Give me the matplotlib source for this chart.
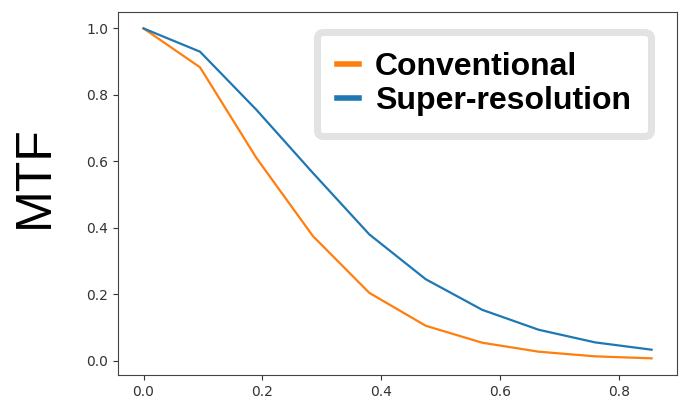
import matplotlib
matplotlib.use("Agg")
import matplotlib.pyplot as plt

freq = [0.0, 0.095, 0.19, 0.285, 0.38, 0.475, 0.57, 0.665, 0.76, 0.855]
conventional = [1.0, 0.883, 0.61, 0.375, 0.204, 0.105, 0.054, 0.027, 0.013, 0.007]
super_res = [1.0, 0.93, 0.755, 0.565, 0.38, 0.245, 0.153, 0.093, 0.055, 0.033]
labels = ["Conventional", "Super-resolution"]

fig = plt.figure(figsize=(6.79, 4.11), dpi=100)
ax = fig.add_axes([0.174, 0.088, 0.823, 0.883])
ax.plot(freq, conventional, color="#ff7f0e", lw=1.6, label=labels[0])
ax.plot(freq, super_res, color="#1f77b4", lw=1.6, label=labels[1])

ax.set_xticks([0.0, 0.2, 0.4, 0.6, 0.8])
ax.set_yticks([0.0, 0.2, 0.4, 0.6, 0.8, 1.0])
ax.tick_params(labelsize=10, colors="#333333", labelcolor="#333333")
for s in ax.spines.values():
    s.set_color("#444444")

fig.text(0.052, 0.57, "MTF", rotation=90, fontsize=36, family="Liberation Sans",
         ha="center", va="center")

leg = ax.legend(loc="upper right", bbox_to_anchor=(0.953, 0.945), borderaxespad=0,
                prop={"family": "Liberation Sans", "weight": "bold", "size": 23},
                handlelength=0.7, handletextpad=0.5, labelspacing=0.15,
                fancybox=True, framealpha=1.0, borderpad=0.62)
leg.get_frame().set_edgecolor("#e3e3e3")
leg.get_frame().set_linewidth(5)
for l in leg.get_lines():
    l.set_linewidth(4)

fig.savefig("out.png", dpi=100)
